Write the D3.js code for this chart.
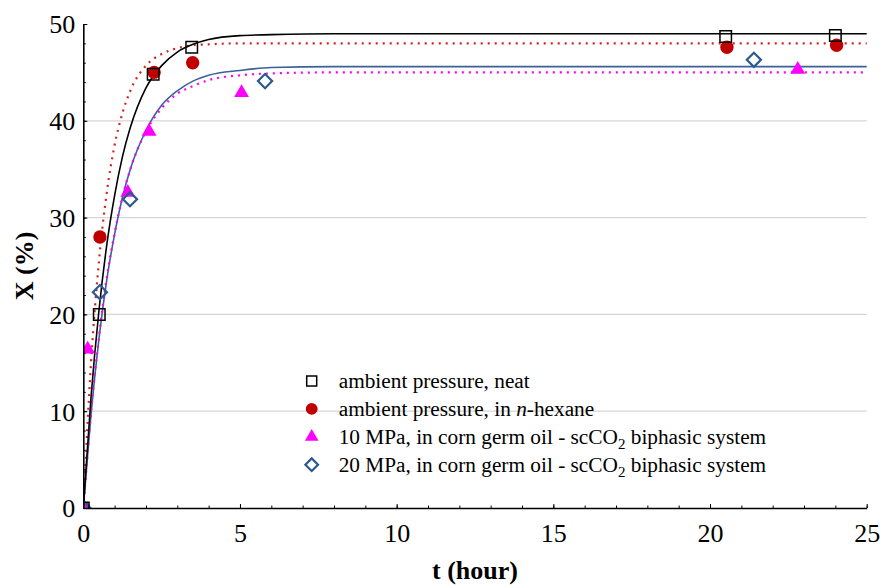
<!DOCTYPE html>
<html>
<head>
<meta charset="utf-8">
<script src="https://cdn.jsdelivr.net/npm/d3@7"></script>
<style>
  body { margin: 0; background: #fff; }
  text { font-family: "Liberation Serif", "Times New Roman", Times, "DejaVu Serif", serif; fill: #000; }
</style>
</head>
<body>
<div id="chart"></div>
<script>
var tNeat = [0, 0.51, 2.23, 3.46, 20.5, 24.0];
var xNeat = [0, 20.0, 44.8, 47.6, 48.7, 48.8];
var tHexane = [0, 0.53, 2.26, 3.49, 20.54, 24.04];
var xHexane = [0, 28.0, 45.0, 46.0, 47.6, 47.8];
var tOil10 = [0, 0.14, 1.42, 2.1, 5.05, 22.8];
var xOil10 = [0, 16.4, 32.6, 38.9, 42.9, 45.3];
var tOil20 = [0, 0.53, 1.49, 5.8, 21.4];
var xOil20 = [0, 22.3, 31.9, 44.1, 46.3];

// Fitted curves, sampled off the figure
var tCurve = [0, 0.25, 0.5, 0.75, 1, 1.25, 1.5, 2, 2.5, 3, 3.5, 4, 5, 6, 8, 10, 15, 25];
var fitNeat = [0, 11.6, 20.4, 27.2, 32.3, 36.3, 39.3, 43.4, 45.7, 47.1, 47.9, 48.4, 48.8, 48.9, 49.0, 49.0, 49.0, 49.0];
var fitHexane = [0, 15.2, 25.5, 32.6, 37.5, 40.8, 43.1, 45.7, 46.9, 47.5, 47.8, 47.9, 48.0, 48.0, 48.0, 48.0, 48.0, 48.0];
var fitOil20 = [0, 9.8, 17.5, 23.6, 28.3, 32.1, 35.0, 39.0, 41.6, 43.1, 44.1, 44.7, 45.2, 45.5, 45.6, 45.6, 45.6, 45.6];
var fitOil10 = [0, 10.0, 17.7, 23.8, 28.4, 32.1, 35.0, 38.9, 41.3, 42.8, 43.6, 44.2, 44.7, 44.9, 45.0, 45.0, 45.0, 45.0];

// Axis ticks
var xTicks = [0, 5, 10, 15, 20, 25];
var yTicks = [0, 10, 20, 30, 40, 50];
var yGrid = [10, 20, 30, 40];

// Legend labels
var legendLabels = [
  ["ambient pressure, neat"],
  ["ambient pressure, in ", "n", "-hexane"],
  ["10 MPa, in corn germ oil - scCO", "2", " biphasic system"],
  ["20 MPa, in corn germ oil - scCO", "2", " biphasic system"]
];

var svgWidth = 880;
var svgHeight = 585;
var margin = { top: 24, right: 13.3, bottom: 77, left: 83.3 };
var chartWidth = svgWidth - margin.left - margin.right;
var chartHeight = svgHeight - margin.top - margin.bottom;

var red = "#c00000";
var magenta = "#ff00ff";
var blue = "#2b5a8c";

var svg = d3.select("#chart")
  .append("svg")
  .attr("width", svgWidth)
  .attr("height", svgHeight);

// Clip marks to the plot area, like the original
svg.append("defs").append("clipPath")
  .attr("id", "plotClip")
  .append("rect")
  .attr("x", 0)
  .attr("y", -10)
  .attr("width", chartWidth + 10)
  .attr("height", chartHeight + 10);

var chartGroup = svg.append("g")
  .attr("transform", `translate(${margin.left}, ${margin.top})`);

var xLinearScale = d3.scaleLinear().domain([0, 25]).range([0, chartWidth]);
var yLinearScale = d3.scaleLinear().domain([0, 50]).range([chartHeight, 0]);

// Grid lines
chartGroup.selectAll(".grid")
  .data(yGrid)
  .enter()
  .append("line")
  .attr("x1", 0)
  .attr("x2", chartWidth)
  .attr("y1", d => yLinearScale(d))
  .attr("y2", d => yLinearScale(d))
  .attr("stroke", "#d6d6d6")
  .attr("stroke-width", 1.2);

// Minor ticks
chartGroup.append("g")
  .attr("transform", `translate(0, ${chartHeight})`)
  .call(d3.axisBottom(xLinearScale).ticks(25).tickSize(-2.5).tickFormat(""))
  .call(g => g.select(".domain").remove());

chartGroup.append("g")
  .call(d3.axisLeft(yLinearScale).ticks(25).tickSize(-2.5).tickFormat(""))
  .call(g => g.select(".domain").remove());

// Fitted curves
function curvePoints(ys) {
  return tCurve.map((t, i) => [t, ys[i]]);
}
var line = d3.line()
  .x(d => xLinearScale(d[0]))
  .y(d => yLinearScale(d[1]))
  .curve(d3.curveMonotoneX);

var plotArea = chartGroup.append("g").attr("clip-path", "url(#plotClip)");

var curves = [
  { ys: fitOil20, color: "#3a6296", width: 1.6, dash: null },
  { ys: fitOil10, color: magenta, width: 2.2, dash: "2,5" },
  { ys: fitHexane, color: "#d42020", width: 2.2, dash: "2,5" },
  { ys: fitNeat, color: "#000", width: 1.6, dash: null }
];
curves.forEach(function(c) {
  plotArea.append("path")
    .datum(curvePoints(c.ys))
    .attr("d", line)
    .attr("fill", "none")
    .attr("stroke", c.color)
    .attr("stroke-width", c.width)
    .attr("stroke-dasharray", c.dash);
});

// Marker styles
var markers = [
  { ts: tNeat, xs: xNeat, path: d3.symbol().type(d3.symbolSquare).size(132)(), rot: 0, fill: "none", stroke: "#000", sw: 1.5 },
  { ts: tHexane, xs: xHexane, path: d3.symbol().type(d3.symbolCircle).size(140)(), rot: 0, fill: red, stroke: "none", sw: 0 },
  { ts: tOil10, xs: xOil10, path: d3.symbol().type(d3.symbolTriangle).size(95)(), rot: 0, fill: magenta, stroke: "none", sw: 0 },
  { ts: tOil20, xs: xOil20, path: d3.symbol().type(d3.symbolSquare).size(100)(), rot: 45, fill: "none", stroke: blue, sw: 2.2 }
];

// Draw order: circles, triangles, diamonds, squares on top
[1, 2, 3, 0].forEach(function(k) {
  var m = markers[k];
  plotArea.selectAll(".mk" + k)
    .data(m.ts.map((t, i) => [t, m.xs[i]]))
    .enter()
    .append("path")
    .attr("d", m.path)
    .attr("transform", d => `translate(${xLinearScale(d[0])}, ${yLinearScale(d[1])}) rotate(${m.rot})`)
    .attr("fill", m.fill)
    .attr("stroke", m.stroke)
    .attr("stroke-width", m.sw);
});

// Major axes
var xAxis = chartGroup.append("g")
  .attr("transform", `translate(0, ${chartHeight})`)
  .call(d3.axisBottom(xLinearScale).tickValues(xTicks).tickSize(-4).tickSizeOuter(0).tickPadding(16));

var yAxis = chartGroup.append("g")
  .call(d3.axisLeft(yLinearScale).tickValues(yTicks).tickSize(-4).tickSizeOuter(0).tickPadding(8));

[xAxis, yAxis].forEach(function(ax) {
  ax.attr("font-family", null);
  ax.select(".domain").attr("stroke-width", 1.6);
  ax.selectAll("text")
    .attr("font-size", 26)
    .attr("fill", "#000");
});
yAxis.selectAll("text").attr("dy", "0.34em");

// Legend
var legendGroup = svg.append("g")
  .attr("transform", "translate(311.7, 381)");

legendLabels.forEach(function(parts, i) {
  var m = markers[i];
  var row = legendGroup.append("g").attr("transform", `translate(0, ${i * 27.9})`);
  row.append("path")
    .attr("d", i == 0 ? d3.symbol().type(d3.symbolSquare).size(100)() :
               i == 1 ? d3.symbol().type(d3.symbolCircle).size(110)() :
               i == 2 ? d3.symbol().type(d3.symbolTriangle).size(80)() :
               d3.symbol().type(d3.symbolSquare).size(80)())
    .attr("transform", `rotate(${m.rot})`)
    .attr("fill", m.fill)
    .attr("stroke", m.stroke)
    .attr("stroke-width", m.sw);

  var label = row.append("text")
    .attr("x", 27)
    .attr("y", 7)
    .attr("font-size", 21.3);
  if (parts.length == 1) {
    label.text(parts[0]);
  }
  else if (i == 1) {
    label.append("tspan").text(parts[0]);
    label.append("tspan").attr("font-style", "italic").text(parts[1]);
    label.append("tspan").text(parts[2]);
  }
  else {
    label.append("tspan").text(parts[0]);
    label.append("tspan").attr("font-size", 15).attr("dy", 5).text(parts[1]);
    label.append("tspan").attr("dy", -5).text(parts[2]);
  }
});

// Axis titles
svg.append("text")
  .attr("x", margin.left + chartWidth / 2)
  .attr("y", 579)
  .attr("text-anchor", "middle")
  .attr("font-size", 26)
  .attr("font-weight", "bold")
  .text("t (hour)");

svg.append("text")
  .attr("transform", `translate(33, ${margin.top + chartHeight / 2}) rotate(-90)`)
  .attr("text-anchor", "middle")
  .attr("font-size", 26)
  .attr("font-weight", "bold")
  .text("X (%)");
</script>
</body>
</html>
